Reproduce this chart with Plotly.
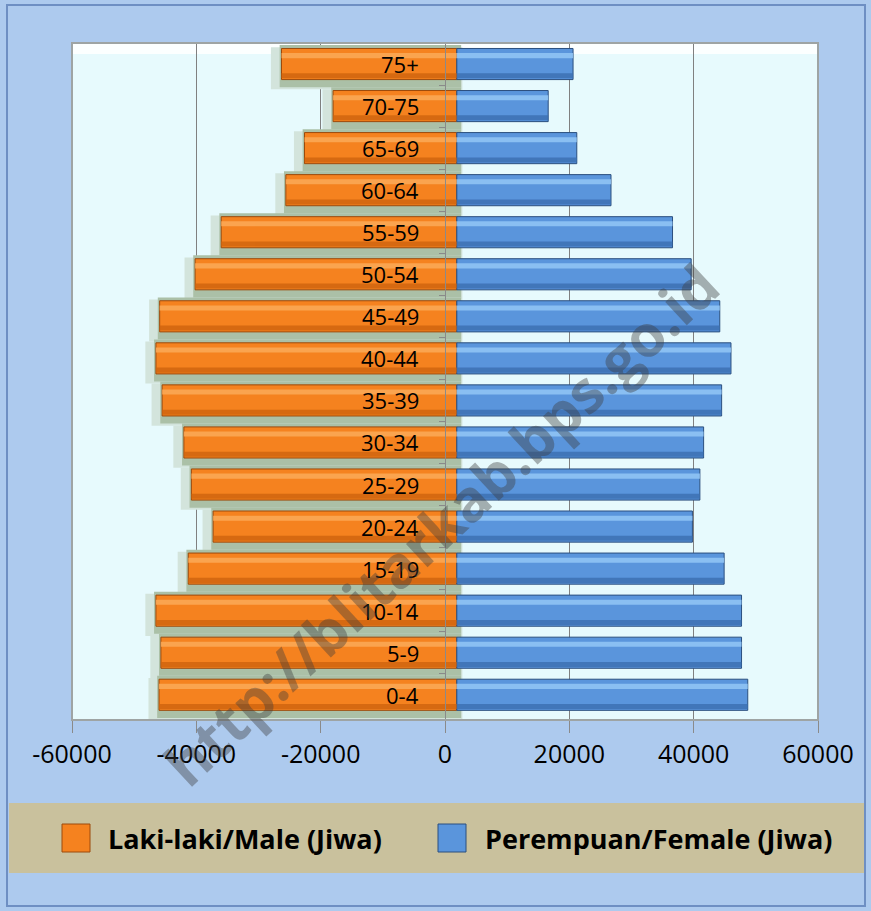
import plotly.graph_objects as go

# ---- data (top row first, as in the picture) ----
age_groups = ["75+", "70-75", "65-69", "60-64", "55-59", "50-54", "45-49", "40-44",
              "35-39", "30-34", "25-29", "20-24", "15-19", "10-14", "5-9", "0-4"]
male = [26300, 18000, 22600, 25600, 36000, 40200, 45900, 46500,
        45500, 42000, 40800, 37300, 41300, 46500, 45700, 46000]
female = [20600, 16600, 21200, 26700, 36600, 39600, 44200, 46000,
          44500, 41600, 41000, 39800, 44900, 47700, 47700, 48700]
series_names = ["Laki-laki/Male (Jiwa)", "Perempuan/Female (Jiwa)"]
tick_values = [-60000, -40000, -20000, 0, 20000, 40000, 60000]
tick_labels = ["-60000", "-40000", "-20000", "0", "20000", "40000", "60000"]
watermark = "http://blitarkab.bps.go.id"

# ---- style ----
W, H = 871, 911
L, R, T, B = 72, 818, 43, 720          # plot area in pixels
JOIN = 1900                             # bars of both sexes meet slightly right of zero
ORANGE, ORANGE_HI, ORANGE_LO, ORANGE_LN = "#f5821f", "#fcaa58", "#cf640e", "#9c4a0c"
BLUE, BLUE_HI, BLUE_LO, BLUE_LN = "#5a95dc", "#93c7f7", "#3b6fb1", "#2b4f7e"
FONT = "Open Sans, Liberation Sans, sans-serif"


def px(xp):
    return (xp - L) / (R - L)


def py(yp):
    return (B - yp) / (B - T)


fig = go.Figure()

male_x = [-m - JOIN for m in male]
female_x = [f - JOIN for f in female]

# soft shadow behind the male bars (falls slightly down-left)
fig.add_trace(go.Bar(y=age_groups, x=[v - 2600 for v in male_x], base=JOIN + 900, orientation="h",
                     width=1.0, offset=-0.4, marker=dict(color="#d3e4dc", line=dict(width=0)),
                     showlegend=False, hoverinfo="skip"))
fig.add_trace(go.Bar(y=age_groups, x=[v - 1000 for v in male_x], base=JOIN + 700, orientation="h",
                     width=1.0, offset=-0.45, marker=dict(color="#abc0a7", line=dict(width=0)),
                     showlegend=False, hoverinfo="skip"))

# main bars
fig.add_trace(go.Bar(y=age_groups, x=male_x, base=JOIN, orientation="h", width=0.74,
                     name=series_names[0], marker=dict(color=ORANGE, line=dict(color=ORANGE_LN, width=1)),
                     showlegend=False))
fig.add_trace(go.Bar(y=age_groups, x=female_x, base=JOIN, orientation="h", width=0.74,
                     name=series_names[1], marker=dict(color=BLUE, line=dict(color=BLUE_LN, width=1)),
                     showlegend=False))

# bevel highlights / shades
for xs, hi, lo in ((male_x, ORANGE_HI, ORANGE_LO), (female_x, BLUE_HI, BLUE_LO)):
    fig.add_trace(go.Bar(y=age_groups, x=xs, base=JOIN, orientation="h", width=0.12, offset=-0.26,
                         marker=dict(color=hi, line=dict(width=0)), opacity=0.85,
                         showlegend=False, hoverinfo="skip"))
    fig.add_trace(go.Bar(y=age_groups, x=xs, base=JOIN, orientation="h", width=0.12, offset=0.22,
                         marker=dict(color=lo, line=dict(width=0)), opacity=0.8,
                         showlegend=False, hoverinfo="skip"))

shapes = [
    # outer frame
    dict(type="rect", xref="paper", yref="paper", x0=px(7), x1=px(865), y0=py(906), y1=py(5),
         line=dict(color="#6e8fc3", width=2), layer="below"),
    # legend band
    dict(type="rect", xref="paper", yref="paper", x0=px(9), x1=px(864), y0=py(873), y1=py(803),
         fillcolor="#c9c19d", line=dict(width=0), layer="below"),
    # white top highlight of the plot area
    dict(type="rect", xref="paper", yref="paper", x0=0, x1=1, y0=py(54), y1=1,
         fillcolor="rgba(255,255,255,0.85)", line=dict(width=0), layer="below"),
    # plot-area bevel
    dict(type="rect", xref="paper", yref="paper", x0=0, x1=1, y0=0, y1=1,
         line=dict(color="#9ea4a4", width=2), layer="above"),
    # legend swatches
    dict(type="rect", xref="paper", yref="paper", x0=px(62), x1=px(90), y0=py(852), y1=py(824),
         fillcolor=ORANGE, line=dict(color=ORANGE_LN, width=1)),
    dict(type="rect", xref="paper", yref="paper", x0=px(438), x1=px(466), y0=py(852), y1=py(824),
         fillcolor=BLUE, line=dict(color=BLUE_LN, width=1)),
]

annotations = []
for g in age_groups:
    annotations.append(dict(x=0, y=g, xref="x", yref="y", text=g, showarrow=False,
                            xanchor="right", xshift=-24, font=dict(family=FONT, size=22, color="#000000")))
annotations.append(dict(x=px(106), y=py(838), xref="paper", yref="paper", text="<b>" + series_names[0] + "</b>",
                        showarrow=False, xanchor="left", yanchor="middle",
                        font=dict(family=FONT, size=27, color="#000000")))
annotations.append(dict(x=px(483), y=py(838), xref="paper", yref="paper", text="<b>" + series_names[1] + "</b>",
                        showarrow=False, xanchor="left", yanchor="middle",
                        font=dict(family=FONT, size=27, color="#000000")))
annotations.append(dict(x=px(440), y=py(524), xref="paper", yref="paper", text="<b>" + watermark + "</b>",
                        showarrow=False, textangle=-43, xanchor="center", yanchor="middle",
                        font=dict(family=FONT, size=58, color="rgba(60,60,60,0.40)")))

fig.update_layout(
    width=W, height=H,
    margin=dict(l=L, r=W - R, t=T, b=H - B),
    paper_bgcolor="#adcaee",
    plot_bgcolor="#e7fafd",
    barmode="overlay",
    bargap=0.26,
    showlegend=False,
    shapes=shapes,
    annotations=annotations,
    xaxis=dict(range=[-60000, 60000], tickvals=tick_values, ticktext=tick_labels,
               showgrid=True, gridcolor="#808080", gridwidth=1, zeroline=False,
               ticks="outside", ticklen=12, tickcolor="#8a8a8a",
               showline=True, linecolor="#9ea4a4", linewidth=1,
               tickfont=dict(family=FONT, size=25, color="#000000")),
    yaxis=dict(type="category", autorange="reversed", anchor="free", position=px(445),
               showgrid=False, zeroline=False, showticklabels=False,
               ticks="outside", ticklen=6, tickcolor="#8a8a8a", tickson="boundaries",
               showline=True, linecolor="#8a8a8a", linewidth=1),
)

fig.write_html("out.html", config={"displayModeBar": False},
               post_script="document.body.style.margin='0';")
